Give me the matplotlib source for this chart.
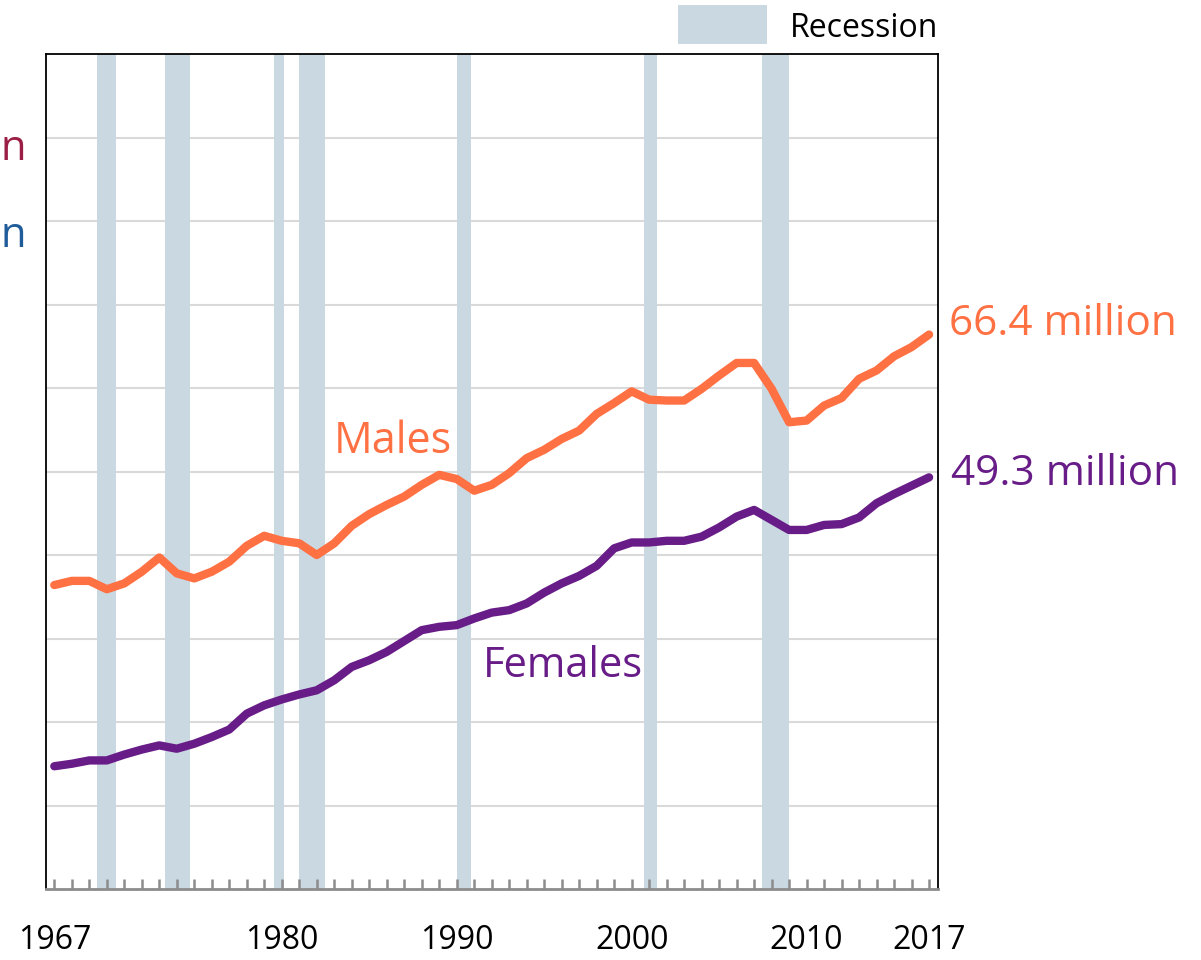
import matplotlib.pyplot as plt
from matplotlib.patches import Rectangle

plt.rcParams['font.family'] = ['Open Sans', 'DejaVu Sans']

years = list(range(1967, 2018))
males = [36.4, 36.9, 36.9, 35.9, 36.6, 38.0, 39.7, 37.8, 37.2, 38.0,
         39.2, 41.1, 42.3, 41.7, 41.4, 40.0, 41.4, 43.5, 44.9, 46.0,
         47.0, 48.4, 49.6, 49.1, 47.7, 48.4, 49.8, 51.6, 52.6, 53.9,
         54.9, 56.9, 58.2, 59.6, 58.6, 58.5, 58.5, 59.9, 61.5, 63.0,
         63.0, 59.9, 55.9, 56.1, 57.9, 58.8, 61.1, 62.1, 63.8, 64.9, 66.4]
females = [14.7, 15.0, 15.4, 15.4, 16.1, 16.7, 17.2, 16.8, 17.4, 18.2,
           19.1, 21.0, 22.0, 22.7, 23.3, 23.8, 25.0, 26.6, 27.4, 28.4,
           29.7, 31.0, 31.4, 31.6, 32.4, 33.1, 33.4, 34.2, 35.5, 36.6,
           37.5, 38.7, 40.8, 41.5, 41.5, 41.7, 41.7, 42.2, 43.3, 44.6,
           45.4, 44.2, 43.0, 43.0, 43.6, 43.7, 44.5, 46.2, 47.3, 48.3, 49.3]

# recession shading (start, end) on the year axis
rec_start = [1969.42, 1973.33, 1979.56, 1980.99, 1990.03, 2000.72, 2007.46]
rec_end = [1970.51, 1974.76, 1980.13, 1982.48, 1990.83, 2001.46, 2009.0]

label_years = [1967, 1980, 1990, 2000, 2010, 2017]

orange = '#FF7043'
purple = '#681C87'
band = '#CAD8E1'

fig = plt.figure(figsize=(12.01, 9.6), dpi=100)
ax = fig.add_axes([46 / 1201, 71 / 960, 892 / 1201, 835 / 960])

for s, e in zip(rec_start, rec_end):
    ax.axvspan(s, e, color=band, lw=0, zorder=1)

for g in range(10, 100, 10):
    ax.axhline(g, color='#D9D9D9', lw=1.5, zorder=0)

ax.plot(years, males, color=orange, lw=6, solid_capstyle='round',
        solid_joinstyle='round', zorder=3)
ax.plot(years, females, color=purple, lw=6, solid_capstyle='round',
        solid_joinstyle='round', zorder=3)

ax.set_xlim(1966.525, 2017.51)
ax.set_ylim(0, 100)
ax.set_yticks([])

ax.set_xticks(years)
ax.set_xticklabels([str(y) if y in label_years else '' for y in years],
                   fontsize=23)
ax.tick_params(axis='x', direction='in', length=7.5, width=1.8,
               color='#8C8C8C', pad=25)

for side in ['left', 'top', 'right']:
    ax.spines[side].set_color('black')
    ax.spines[side].set_linewidth(1.3)
ax.spines['bottom'].set_color('#8C8C8C')
ax.spines['bottom'].set_linewidth(2)

ax.text(1983.0, 52.2, 'Males', color=orange, fontsize=31, va='baseline')
ax.text(1991.5, 25.4, 'Females', color=purple, fontsize=30, va='baseline')
ax.text(2018.15, 66.3, '66.4 million', color=orange, fontsize=30.5,
        va='baseline', clip_on=False)
ax.text(2018.25, 48.4, '49.3 million', color=purple, fontsize=30.5,
        va='baseline', clip_on=False)

# recession key
fig.patches.append(Rectangle((678 / 1201, 1 - 44 / 960), 89 / 1201, 39 / 960,
                             transform=fig.transFigure, color=band, lw=0))
fig.text(790 / 1201, 1 - 37 / 960, 'Recession', fontsize=23, va='baseline')

# partial labels at the far left edge
fig.text(0.0, 1 - 160 / 960, 'n', color='#9B1F45', fontsize=30,
         ha='left', va='baseline')
fig.text(0.0, 1 - 247 / 960, 'n', color='#1F5C99', fontsize=30,
         ha='left', va='baseline')

fig.savefig('out.png', dpi=100)
